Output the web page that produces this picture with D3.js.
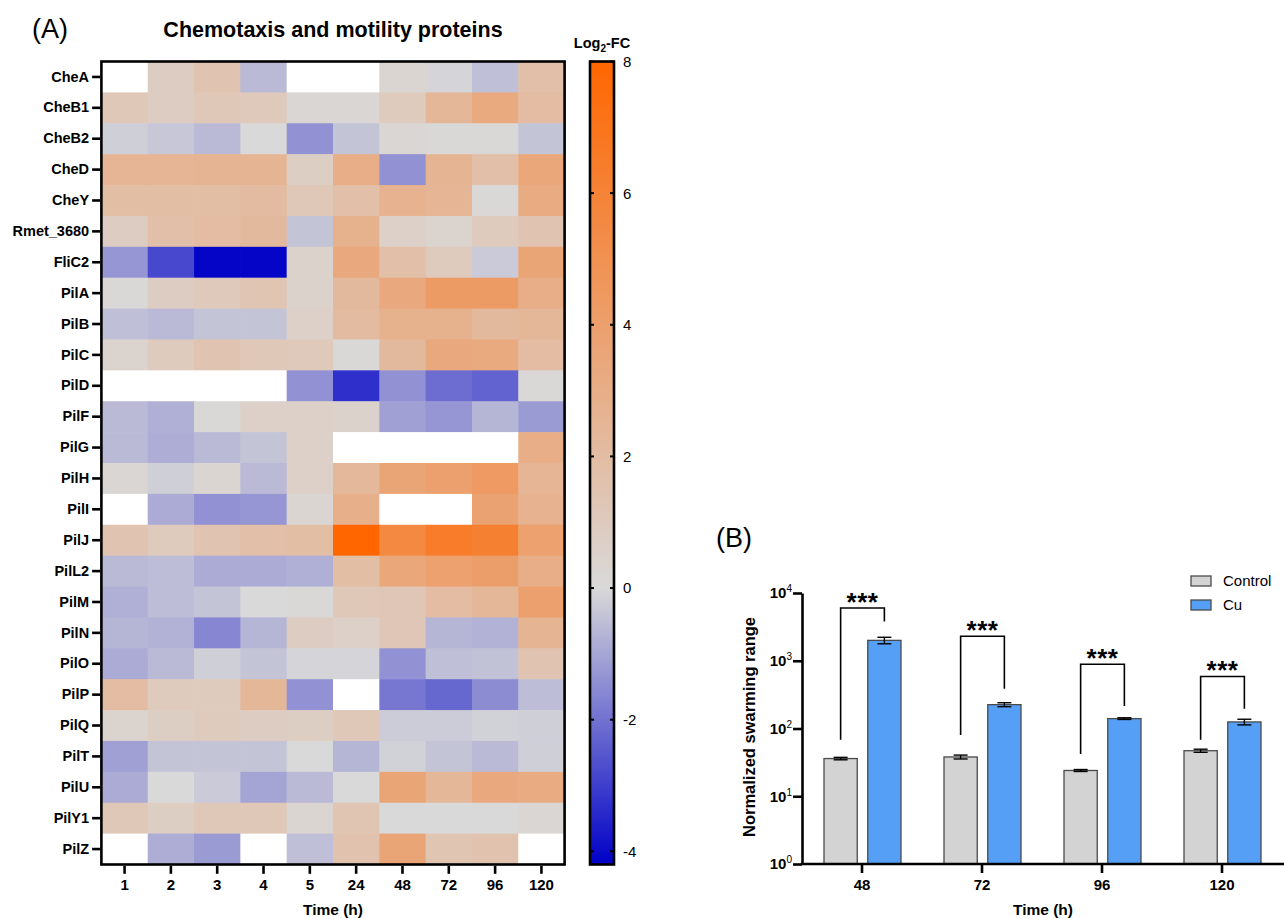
<!DOCTYPE html>
<html>
<head>
<meta charset="utf-8">
<script src="https://cdn.jsdelivr.net/npm/d3@7"></script>
<style>
  body { margin: 0; background: #fff; }
  svg text { font-family: "Liberation Sans", Arial, Helvetica, sans-serif; fill: #000; }
</style>
</head>
<body>
<svg id="fig" width="1284" height="919"></svg>
<script>
// ---------- Panel A: chemotaxis / motility protein heatmap ----------
const proteins = ["CheA","CheB1","CheB2","CheD","CheY","Rmet_3680","FliC2","PilA","PilB","PilC",
  "PilD","PilF","PilG","PilH","PilI","PilJ","PilL2","PilM","PilN","PilO","PilP","PilQ","PilT",
  "PilU","PilY1","PilZ"];
const timePoints = ["1","2","3","4","5","24","48","72","96","120"];
// log2 fold change per protein (rows) and time point (columns); null = not detected
const log2FC = [
  [null, 0.9, 1.5, -0.6, null, null, 0.3, -0.1, -0.5, 1.8],
  [1.2, 0.9, 1.2, 1.1, 0.2, 0.2, 1.0, 2.4, 3.3, 2.0],
  [-0.2, -0.35, -0.6, 0.0, -1.4, -0.4, 0.2, 0.1, 0.1, -0.4],
  [2.5, 2.5, 2.6, 2.6, 0.8, 3.0, -1.4, 2.6, 1.8, 3.5],
  [1.9, 1.9, 1.9, 2.1, 1.2, 1.8, 2.7, 2.5, 0.1, 3.2],
  [0.9, 1.8, 2.0, 2.2, -0.4, 2.8, 0.6, 0.4, 1.0, 1.5],
  [-1.3, -2.8, -4.1, -4.1, 0.5, 3.4, 1.8, 1.0, -0.3, 3.6],
  [0.1, 0.9, 1.1, 1.4, 0.5, 2.2, 3.4, 4.3, 4.3, 3.0],
  [-0.5, -0.6, -0.4, -0.4, 0.6, 2.1, 2.8, 2.8, 2.2, 2.4],
  [0.4, 1.0, 1.5, 1.2, 1.1, 0.1, 2.2, 3.4, 3.3, 2.0],
  [null, null, null, null, -1.4, -3.3, -1.4, -2.1, -2.3, 0.1],
  [-0.6, -0.8, 0.1, 0.6, 0.6, 0.5, -1.1, -1.3, -0.7, -1.2],
  [-0.6, -0.85, -0.6, -0.4, 0.6, null, null, null, null, 3.0],
  [0.2, -0.2, 0.3, -0.6, 0.6, 2.3, 3.6, 4.0, 4.4, 2.5],
  [null, -0.9, -1.4, -1.3, 0.3, 2.9, null, null, 3.8, 2.7],
  [1.5, 1.0, 1.5, 1.8, 1.9, 8.0, 5.6, 6.5, 6.2, 3.9],
  [-0.6, -0.55, -0.9, -0.9, -0.8, 1.9, 3.5, 3.9, 4.1, 3.0],
  [-0.8, -0.55, -0.4, 0.0, 0.1, 1.2, 1.3, 2.0, 2.4, 4.0],
  [-0.7, -0.75, -1.6, -0.7, 0.9, 0.6, 1.3, -0.7, -0.75, 2.6],
  [-0.9, -0.6, -0.2, -0.4, -0.1, -0.1, -1.4, -0.5, -0.45, 1.5],
  [2.0, 1.0, 1.0, 2.4, -1.4, null, -1.9, -2.2, -1.5, -0.55],
  [0.4, 0.8, 1.0, 0.9, 0.8, 1.2, -0.25, -0.25, -0.15, -0.2],
  [-1.1, -0.4, -0.4, -0.4, 0.0, -0.7, -0.15, -0.4, -0.6, -0.2],
  [-0.9, 0.0, -0.3, -1.0, -0.6, 0.0, 3.6, 2.4, 3.4, 3.2],
  [1.2, 0.8, 1.2, 1.2, 0.3, 1.4, 0.0, 0.0, 0.0, 0.2],
  [null, -0.85, -1.2, null, -0.5, 1.6, 3.6, 1.4, 1.6, null]
];
const colorStops = [-4.2, 0, 8];
const colorbarTicks = [-4, -2, 0, 2, 4, 6, 8];

// ---------- Panel B: swarming range ----------
const swarmTimes = ["48","72","96","120"];
const groups = ["Control","Cu"];
const controlMean = [36, 38, 24, 47];
const controlErr  = [1.5, 2.5, 0.8, 2.5];
const cuMean      = [2000, 225, 140, 125];
const cuErr       = [220, 15, 4, 12];
const sigLabels   = ["***","***","***","***"];
const bracketTop  = [6000, 2300, 890, 585];
const bracketLow  = [68, 80, 42, 68];     // left leg end (control side)
const bracketHigh = [3800, 385, 215, 195]; // right leg end (Cu side)
const logTicks    = [1, 10, 100, 1000, 10000];

const svg = d3.select("#fig");

// ================= Panel A =================
const hm = { left: 101.4, right: 564.6, top: 61.5, bottom: 864.5 };
const xH = d3.scaleBand().domain(timePoints).range([hm.left, hm.right]);
const yH = d3.scaleBand().domain(proteins).range([hm.top, hm.bottom]);
const color = d3.scaleLinear().domain(colorStops)
  .range(["#0000c8", "#d9d9d9", "#ff6600"]).clamp(true);

const cells = [];
proteins.forEach((p, i) => timePoints.forEach((t, j) => cells.push({ p, t, v: log2FC[i][j] })));

const gA = svg.append("g");
gA.append("g").selectAll("rect").data(cells).join("rect")
  .attr("x", d => xH(d.t))
  .attr("y", d => yH(d.p))
  .attr("width", xH.bandwidth() + 0.6)
  .attr("height", yH.bandwidth() + 0.6)
  .attr("fill", d => d.v == null ? "#ffffff" : color(d.v));

gA.append("rect")
  .attr("x", hm.left).attr("y", hm.top)
  .attr("width", hm.right - hm.left).attr("height", hm.bottom - hm.top)
  .attr("fill", "none").attr("stroke", "#000").attr("stroke-width", 2.6);

const yAxisA = gA.append("g")
  .attr("transform", `translate(${hm.left - 1.3},0)`)
  .call(d3.axisLeft(yH).tickSize(8).tickPadding(3));
yAxisA.select(".domain").remove();
yAxisA.selectAll(".tick line").attr("stroke", "#000").attr("stroke-width", 2.6);
yAxisA.selectAll(".tick text").attr("font-size", 14.5).attr("font-weight", "bold")
  .attr("font-family", null).attr("fill", "#000");

const xAxisA = gA.append("g")
  .attr("transform", `translate(0,${hm.bottom + 1.3})`)
  .call(d3.axisBottom(xH).tickSize(8).tickPadding(6));
xAxisA.select(".domain").remove();
xAxisA.selectAll(".tick line").attr("stroke", "#000").attr("stroke-width", 2.6);
xAxisA.selectAll(".tick text").attr("font-size", 15).attr("font-weight", "bold")
  .attr("font-family", null).attr("fill", "#000");

gA.append("text").attr("x", (hm.left + hm.right) / 2).attr("y", 915)
  .attr("text-anchor", "middle").attr("font-size", 15.5).attr("font-weight", "bold")
  .text("Time (h)");

gA.append("text").attr("x", (hm.left + hm.right) / 2).attr("y", 37)
  .attr("text-anchor", "middle").attr("font-size", 21.5).attr("font-weight", "bold")
  .text("Chemotaxis and motility proteins");

svg.append("text").attr("x", 32).attr("y", 38).attr("font-size", 27).text("(A)");

// colour bar
const cb = { x: 590, w: 24 };
const yCB = d3.scaleLinear().domain([colorStops[0], colorStops[2]]).range([hm.bottom, hm.top]);
const defs = svg.append("defs");
const grad = defs.append("linearGradient").attr("id", "fcGrad")
  .attr("x1", 0).attr("y1", 1).attr("x2", 0).attr("y2", 0);
const stopValues = d3.range(0, 1.0001, 0.05)
  .map(f => colorStops[0] + f * (colorStops[2] - colorStops[0]))
  .concat([0])
  .sort((a, b) => a - b);
stopValues.forEach(v => {
  grad.append("stop")
    .attr("offset", (v - colorStops[0]) / (colorStops[2] - colorStops[0]))
    .attr("stop-color", color(v));
});

const gCB = svg.append("g");
gCB.append("rect").attr("x", cb.x).attr("y", hm.top)
  .attr("width", cb.w).attr("height", hm.bottom - hm.top)
  .attr("fill", "url(#fcGrad)").attr("stroke", "#000").attr("stroke-width", 2.6);
const cbTick = gCB.selectAll("g.cbt").data(colorbarTicks).join("g").attr("class", "cbt");
cbTick.append("line").attr("x1", cb.x).attr("x2", cb.x + 4)
  .attr("y1", d => yCB(d)).attr("y2", d => yCB(d)).attr("stroke", "#000").attr("stroke-width", 2);
cbTick.append("line").attr("x1", cb.x + cb.w - 4).attr("x2", cb.x + cb.w)
  .attr("y1", d => yCB(d)).attr("y2", d => yCB(d)).attr("stroke", "#000").attr("stroke-width", 2);
cbTick.append("text").attr("x", cb.x + cb.w + 9).attr("y", d => yCB(d))
  .attr("dy", "0.36em").attr("font-size", 15).text(d => d);

const cbTitle = gCB.append("text").attr("x", cb.x + cb.w / 2).attr("y", 48)
  .attr("text-anchor", "middle").attr("font-size", 14.5).attr("font-weight", "bold");
cbTitle.append("tspan").text("Log");
cbTitle.append("tspan").attr("font-size", 10).attr("dy", 4).text("2");
cbTitle.append("tspan").attr("dy", -4).text("-FC");

// ================= Panel B =================
const pb = { left: 802, right: 1282, top: 593, bottom: 864 };
const yB = d3.scaleLog().domain([1, 10000]).range([pb.bottom, pb.top]);
const xB = d3.scaleBand().domain(swarmTimes).range([pb.left, pb.right]);
const xInner = d3.scaleBand().domain(groups).range([-38, 39]).paddingInner(0.24);
const fills = { Control: "#d3d3d3", Cu: "#559ff7" };
const center = t => xB(t) + xB.bandwidth() / 2;

const barData = [];
swarmTimes.forEach((t, i) => {
  barData.push({ t, g: "Control", m: controlMean[i], e: controlErr[i] });
  barData.push({ t, g: "Cu", m: cuMean[i], e: cuErr[i] });
});

const gB = svg.append("g");
gB.selectAll("rect.bar").data(barData).join("rect").attr("class", "bar")
  .attr("x", d => center(d.t) + xInner(d.g))
  .attr("y", d => yB(d.m))
  .attr("width", xInner.bandwidth())
  .attr("height", d => pb.bottom - yB(d.m))
  .attr("fill", d => fills[d.g]).attr("stroke", "#4a4a4a").attr("stroke-width", 1.3);

// error bars
const eb = gB.selectAll("g.err").data(barData).join("g").attr("class", "err")
  .attr("transform", d => `translate(${center(d.t) + xInner(d.g) + xInner.bandwidth() / 2},0)`);
eb.append("line").attr("y1", d => yB(d.m - d.e)).attr("y2", d => yB(d.m + d.e))
  .attr("stroke", "#000").attr("stroke-width", 1.4);
eb.append("line").attr("x1", -7).attr("x2", 7)
  .attr("y1", d => yB(d.m + d.e)).attr("y2", d => yB(d.m + d.e))
  .attr("stroke", "#000").attr("stroke-width", 1.4);
eb.append("line").attr("x1", -7).attr("x2", 7)
  .attr("y1", d => yB(d.m - d.e)).attr("y2", d => yB(d.m - d.e))
  .attr("stroke", "#000").attr("stroke-width", 1.4);

// significance brackets
swarmTimes.forEach((t, i) => {
  const xl = center(t) + xInner("Control") + xInner.bandwidth() / 2;
  const xr = center(t) + xInner("Cu") + xInner.bandwidth() / 2;
  gB.append("path")
    .attr("d", `M${xl},${yB(bracketLow[i])}V${yB(bracketTop[i])}H${xr}V${yB(bracketHigh[i])}`)
    .attr("fill", "none").attr("stroke", "#000").attr("stroke-width", 1.6);
  gB.append("text").attr("x", (xl + xr) / 2).attr("y", yB(bracketTop[i]) + 2.5)
    .attr("text-anchor", "middle").attr("font-size", 26).attr("font-weight", "bold")
    .attr("letter-spacing", 0.5).text(sigLabels[i]);
});

// y axis (log)
const yAxisB = gB.append("g").attr("transform", `translate(${pb.left},0)`)
  .call(d3.axisLeft(yB).tickValues(logTicks).tickSize(9).tickSizeOuter(0).tickFormat(""));
yAxisB.select(".domain").attr("stroke", "#000").attr("stroke-width", 2.6);
yAxisB.selectAll(".tick line").attr("stroke", "#000").attr("stroke-width", 2.6);
const yLab = gB.selectAll("text.ylab").data(logTicks).join("text").attr("class", "ylab")
  .attr("x", pb.left - 10).attr("y", d => yB(d)).attr("dy", "0.36em")
  .attr("text-anchor", "end").attr("font-size", 15).attr("font-weight", "bold");
yLab.append("tspan").text("10");
yLab.append("tspan").attr("font-size", 10).attr("font-weight", "normal").attr("dy", -6)
  .text(d => Math.round(Math.log10(d)));

// x axis
gB.append("line").attr("x1", pb.left - 1.3).attr("x2", 1284)
  .attr("y1", pb.bottom).attr("y2", pb.bottom).attr("stroke", "#000").attr("stroke-width", 2.6);
const xAxisB = gB.append("g").attr("transform", `translate(0,${pb.bottom})`)
  .call(d3.axisBottom(xB).tickSize(9).tickPadding(6));
xAxisB.select(".domain").remove();
xAxisB.selectAll(".tick line").attr("stroke", "#000").attr("stroke-width", 2.6);
xAxisB.selectAll(".tick text").attr("font-size", 15).attr("font-weight", "bold")
  .attr("font-family", null).attr("fill", "#000");

gB.append("text").attr("x", (pb.left + 1284) / 2).attr("y", 915)
  .attr("text-anchor", "middle").attr("font-size", 15.5).attr("font-weight", "bold")
  .text("Time (h)");

gB.append("text").attr("transform", `translate(755,727) rotate(-90)`)
  .attr("text-anchor", "middle").attr("font-size", 16.5).attr("font-weight", "bold")
  .text("Normalized swarming range");

// legend
const leg = gB.selectAll("g.leg").data(groups).join("g").attr("class", "leg")
  .attr("transform", (d, i) => `translate(1191,${576 + i * 24})`);
leg.append("rect").attr("width", 20).attr("height", 10)
  .attr("fill", d => fills[d]).attr("stroke", "#4a4a4a").attr("stroke-width", 1.3);
leg.append("text").attr("x", 32).attr("y", 5).attr("dy", "0.36em")
  .attr("font-size", 15).text(d => d);

svg.append("text").attr("x", 716).attr("y", 547).attr("font-size", 27).text("(B)");
</script>
</body>
</html>
